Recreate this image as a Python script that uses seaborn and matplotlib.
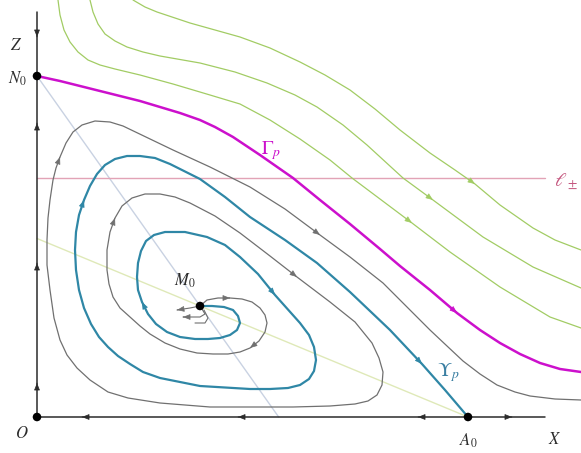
import numpy as np
import matplotlib
matplotlib.use("Agg")
import matplotlib.pyplot as plt
import seaborn as sns

# traced points of each orbit (x right, y down)
gamma_p = [(37, 76), (60, 81), (80, 86), (100, 91), (120, 96), (140, 101), (160, 107),
           (180, 113), (200, 120), (215, 127), (233, 137), (260, 155), (293, 178), (320, 200),
           (350, 224), (380, 249), (400, 266), (430, 290), (457, 313), (480, 330), (500, 343),
           (520, 354), (540, 363), (560, 369), (581, 372)]

green_1 = [(58, 0), (60, 15), (64, 30), (70, 42), (78, 52), (88, 60), (100, 65), (115, 69),
           (140, 75), (173, 84), (210, 95), (240, 104), (270, 120), (300, 139), (330, 160),
           (352, 178), (380, 199), (412, 223), (450, 252), (500, 287), (550, 317), (581, 328)]
green_2 = [(90, 0), (93, 12), (98, 24), (105, 34), (115, 41), (127, 47), (143, 52), (160, 56),
           (200, 63), (235, 72), (267, 83), (295, 95), (317, 107), (343, 125), (367, 145),
           (403, 178), (433, 200), (483, 237), (533, 267), (581, 288)]
green_3 = [(133, 0), (145, 7), (157, 12), (190, 23), (240, 37), (270, 48), (300, 62),
           (325, 75), (350, 90), (375, 109), (400, 130), (430, 153), (455, 170), (475, 184),
           (500, 205), (533, 228), (555, 240), (581, 250)]

teal = [(200, 306), (212, 306), (224, 307), (233, 310), (238, 316), (240, 323), (237, 330),
        (230, 335), (220, 338), (208, 339), (195, 339), (180, 337), (167, 332), (156, 324),
        (148, 314), (142, 302), (138, 290), (137, 277), (138, 263), (141, 251), (146, 241),
        (154, 235), (165, 232), (185, 232), (207, 237), (225, 245), (240, 257), (258, 274),
        (275, 295), (300, 323), (309, 335), (314, 347), (316, 360), (314, 371), (309, 379),
        (300, 385), (288, 388), (270, 389), (250, 389), (200, 386), (160, 378), (143, 372),
        (130, 364), (118, 356), (108, 347), (99, 337), (91, 324), (84, 308), (79, 290),
        (76, 270), (75, 250), (76, 232), (79, 215), (84, 200), (90, 186), (97, 174),
        (105, 165), (115, 159), (127, 156), (140, 156), (155, 158), (170, 164), (200, 179),
        (225, 197), (250, 217), (285, 240), (317, 263), (350, 292), (390, 330), (422, 364),
        (445, 390), (468, 417)]

gray = [(200, 306), (207, 300), (218, 298), (230, 298), (242, 299), (252, 302), (260, 308),
        (265, 315), (267, 323), (265, 332), (259, 341), (250, 348), (240, 352), (228, 354),
        (213, 354), (197, 353), (180, 349), (165, 343), (150, 334), (140, 326), (130, 317),
        (120, 308), (113, 297), (109, 284), (107, 270), (107, 250), (110, 232), (115, 218),
        (122, 206), (132, 198), (145, 194), (160, 194), (175, 197), (190, 203), (215, 216),
        (240, 233), (270, 256), (297, 277), (330, 302), (355, 322), (372, 343), (379, 358),
        (383, 372), (382, 385), (377, 395), (368, 401), (355, 404), (330, 406), (293, 407),
        (250, 407), (210, 407), (160, 403), (128, 398), (108, 392), (90, 380), (77, 368),
        (67, 355), (60, 340), (54, 318), (50, 290), (47, 265), (47, 240), (48, 218), (50, 200),
        (53, 180), (56, 168), (60, 157), (66, 143), (73, 132), (82, 125), (95, 121), (110, 122),
        (123, 126), (173, 150), (210, 167), (250, 187), (285, 209), (320, 235), (350, 257),
        (383, 283), (410, 310), (430, 330), (447, 346), (463, 361), (480, 374), (497, 385),
        (515, 392), (530, 396), (555, 399), (581, 400)]

stub_1 = [(200, 306), (190, 308), (177, 310)]
stub_2 = [(202, 309), (205, 314), (200, 317), (183, 317)]
stub_3 = [(204, 310), (208, 318), (205, 323), (195, 323)]

# where the arrow tips sit on each orbit (snapped to the nearest traced point)
gamma_arrows = [(457, 313)]
green_arrows = [[(412, 223)], [(433, 200)], [(475, 184)]]
teal_arrows = [(142, 302), (275, 295), (84, 200), (422, 364)]
gray_arrows = [(230, 298), (250, 348), (115, 218), (297, 277), (60, 157), (320, 235)]

# equilibria and axes
O_pt, N0_pt, A0_pt, M0_pt = (37, 417), (37, 76), (468, 417), (200, 306)
ell_y = 178
axis_top, axis_right = 12, 545
z_arrows_up = [123, 263, 383]
z_arrows_down = [37]
x_arrows_left = [82, 238, 418]
x_arrows_right = [512]


def to_xz(pts):
    a = np.asarray(pts, dtype=float).reshape(-1, 2)
    return (a[:, 0] - O_pt[0]) / (A0_pt[0] - O_pt[0]), (O_pt[1] - a[:, 1]) / (O_pt[1] - N0_pt[1])


sns.set_style("white")
plt.rcParams["mathtext.fontset"] = "stix"
plt.rcParams["font.family"] = ["DejaVu Serif"]

fig = plt.figure(figsize=(5.81, 4.53), dpi=100)
ax = fig.add_axes([0, 0, 1, 1])


def head(x0, z0, x1, z1, color, size=8):
    ax.annotate("", xy=(x1, z1), xytext=(x1 - 0.05 * (x1 - x0), z1 - 0.05 * (z1 - z0)),
                arrowprops=dict(arrowstyle="-|>,head_length=0.55,head_width=0.22",
                                color=color, lw=0.5, shrinkA=0, shrinkB=0,
                                mutation_scale=size), zorder=6)


def orbit(pts, color, lw, arrows=(), zorder=3):
    x, z = to_xz(pts)
    sns.lineplot(x=x, y=z, sort=False, estimator=None, color=color, lw=lw, ax=ax,
                 zorder=zorder, solid_joinstyle="round", solid_capstyle="round")
    raw = np.asarray(pts, dtype=float)
    for p in arrows:
        i = int(np.argmin(((raw - np.asarray(p)) ** 2).sum(axis=1)))
        i = max(i, 1)
        head(x[i - 1], z[i - 1], x[i], z[i], color)


# reference lines through M0
(nx,), (nz,) = to_xz(N0_pt)
(mx,), (mz,) = to_xz(M0_pt)
(ax_,), (az,) = to_xz(A0_pt)
t = nz / (nz - mz)
ax.plot([nx, nx + t * (mx - nx)], [nz, 0], color="#c9d2e2", lw=1, zorder=1)
slope = (mz - az) / (mx - ax_)
ax.plot([0, ax_], [az - slope * ax_, az], color="#dfe9b8", lw=1, zorder=1)

lx, lz = to_xz([(O_pt[0], ell_y), (axis_right, ell_y)])
ax.plot(lx, lz, color="#e2a3b6", lw=1, zorder=1)

# coordinate axes
axc = "#2b2b2b"
zx, zz = to_xz([O_pt, (O_pt[0], axis_top)])
ax.plot(zx, zz, color=axc, lw=1.1, zorder=2)
xx, xz = to_xz([O_pt, (axis_right, O_pt[1])])
ax.plot(xx, xz, color=axc, lw=1.1, zorder=2)
for yy in z_arrows_up:
    (a,), (b,) = to_xz((O_pt[0], yy))
    head(a, b - 0.01, a, b, axc)
for yy in z_arrows_down:
    (a,), (b,) = to_xz((O_pt[0], yy))
    head(a, b + 0.01, a, b, axc)
for xv in x_arrows_left:
    (a,), (b,) = to_xz((xv, O_pt[1]))
    head(a + 0.01, b, a, b, axc)
for xv in x_arrows_right:
    (a,), (b,) = to_xz((xv, O_pt[1]))
    head(a - 0.01, b, a, b, axc)

# orbits
green = "#a2cc64"
for g, arr in zip([green_1, green_2, green_3], green_arrows):
    orbit(g, green, 0.9, arr)
orbit(gray, "#707070", 0.9, gray_arrows)
orbit(teal, "#2f87a6", 1.6, teal_arrows, zorder=4)
orbit(gamma_p, "#cc10cc", 1.8, gamma_arrows, zorder=4)
orbit(stub_1, "#707070", 0.8, [stub_1[-1]])
orbit(stub_2, "#707070", 0.8, [stub_2[-1]])
orbit(stub_3, "#707070", 0.8)

px, pz = to_xz([O_pt, N0_pt, A0_pt, M0_pt])
sns.scatterplot(x=px, y=pz, color="black", s=38, edgecolor="none", zorder=7, ax=ax)

# labels
labels = [(r"$Z$", (16, 46), axc, 12), (r"$N_0$", (17, 79), axc, 12),
          (r"$O$", (22, 434), axc, 12), (r"$A_0$", (468, 441), axc, 12),
          (r"$X$", (555, 439), axc, 12), (r"$M_0$", (185, 281), axc, 12),
          (r"$\Gamma_p$", (271, 151), "#cc10cc", 14), (r"$\Upsilon_p$", (448, 373), "#3a7fa2", 14),
          (r"$\ell_\pm$", (566, 182), "#c4577f", 14)]
for s, pos, c, fs in labels:
    (a,), (b,) = to_xz(pos)
    ax.text(a, b, s, color=c, fontsize=fs, ha="center", va="center")

x0, z0 = to_xz([(0, 453), (581, 0)])
ax.set_xlim(x0[0], x0[1])
ax.set_ylim(z0[0], z0[1])
ax.axis("off")
fig.savefig("out.png", dpi=100)
